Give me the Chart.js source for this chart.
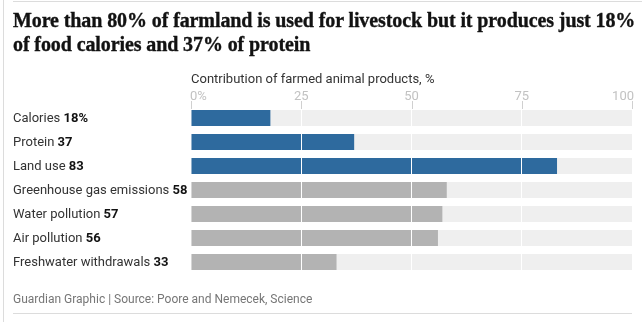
<!DOCTYPE html>
<html>
<head>
<meta charset="utf-8">
<script src="https://cdn.jsdelivr.net/npm/chart.js@4.4.1/dist/chart.umd.min.js"></script>
<style>
  html, body { margin: 0; padding: 0; background: #fff; }
  #wrap { position: relative; width: 642px; height: 322px; overflow: hidden; }
  #chart { position: absolute; left: 0; top: 0; }
  .vline { position: absolute; left: 3px; top: 0; width: 1px; height: 322px; background: #dcdcdc; }
  .topline { position: absolute; left: 13px; top: 1px; width: 629px; height: 1px; background: #dcdcdc; }
  .botline { position: absolute; left: 13px; top: 313px; width: 619px; height: 1px; background: #dcdcdc; }
  h1 { position: absolute; left: 13px; top: 8px; margin: 0; width: 625px;
       font-family: "Liberation Serif", serif; font-weight: 700; font-size: 20px; line-height: 24px;
       color: #121212; letter-spacing: -0.1px; -webkit-text-stroke: 0.35px #121212; }
  .src { position: absolute; left: 13px; top: 292px; margin: 0;
         font-family: Roboto, "Noto Sans", sans-serif; font-size: 12px; color: #767676; }
</style>
</head>
<body>
<div id="wrap">
  <canvas id="chart" width="642" height="322"></canvas>
  <div class="vline"></div>
  <div class="topline"></div>
  <div class="botline"></div>
  <h1>More than 80% of farmland is used for livestock but it produces just 18% of food calories and 37% of protein</h1>
  <p class="src">Guardian Graphic | Source: Poore and Nemecek, Science</p>
</div>
<script>
const categories = ["Calories", "Protein", "Land use", "Greenhouse gas emissions", "Water pollution", "Air pollution", "Freshwater withdrawals"];
const valueLabels = ["18%", "37", "83", "58", "57", "56", "33"];
const values = [18, 37, 83, 58, 57, 56, 33];
const fullScale = [100, 100, 100, 100, 100, 100, 100];
const tickValues = [0, 25, 50, 75, 100];
const tickLabels = ["0%", "25", "50", "75", "100"];
const highlighted = [true, true, true, false, false, false, false];
const axisTitle = "Contribution of farmed animal products, %";

const BLUE = "#2e6a9e";
const GREY = "#b3b3b3";
const SANS = 'Roboto, "Noto Sans", sans-serif';

const labelPlugin = {
  id: "labels",
  afterDraw(chart) {
    const ctx = chart.ctx;
    const x = chart.scales.x;
    const y = chart.scales.y;
    const top = chart.chartArea.top;
    ctx.save();
    // axis title
    ctx.font = "13px " + SANS;
    ctx.fillStyle = "#333333";
    ctx.textAlign = "left";
    ctx.textBaseline = "alphabetic";
    ctx.fillText(axisTitle, x.getPixelForValue(0), top - 23);
    // tick labels and tick marks
    ctx.font = "13px " + SANS;
    ctx.fillStyle = "#c2c2c2";
    tickValues.forEach((v, i) => {
      const px = x.getPixelForValue(v);
      ctx.textAlign = i === 0 ? "left" : (i === tickValues.length - 1 ? "right" : "center");
      const tx = i === 0 ? px - 1 : (i === tickValues.length - 1 ? px + 2 : px);
      ctx.fillText(tickLabels[i], tx, top - 6);
      ctx.strokeStyle = "#d0d0d0";
      ctx.lineWidth = 1;
      ctx.beginPath();
      ctx.moveTo(Math.round(px) + 0.5, top - 5);
      ctx.lineTo(Math.round(px) + 0.5, top + 3);
      ctx.stroke();
    });
    // category labels
    ctx.textBaseline = "middle";
    ctx.textAlign = "left";
    categories.forEach((c, i) => {
      const py = y.getPixelForValue(i) + 1;
      ctx.font = "13px " + SANS;
      ctx.fillStyle = "#333333";
      const name = c + " ";
      ctx.fillText(name, 13, py);
      const w = ctx.measureText(name).width;
      ctx.font = "bold 13px " + SANS;
      ctx.fillStyle = "#121212";
      ctx.fillText(valueLabels[i], 13 + w, py);
    });
    ctx.restore();
  }
};

new Chart(document.getElementById("chart"), {
  type: "bar",
  data: {
    labels: categories,
    datasets: [
      {
        data: values,
        backgroundColor: highlighted.map(h => h ? BLUE : GREY),
        barPercentage: 16 / 24,
        categoryPercentage: 1,
        grouped: false,
        order: 0
      },
      {
        data: fullScale,
        backgroundColor: "#efefef",
        barPercentage: 16 / 24,
        categoryPercentage: 1,
        grouped: false,
        order: 1
      }
    ]
  },
  options: {
    indexAxis: "y",
    responsive: false,
    animation: false,
    events: [],
    layout: { padding: { left: 191, right: 10, top: 106, bottom: 48 } },
    plugins: { legend: { display: false }, tooltip: { enabled: false }, title: { display: false } },
    scales: {
      x: {
        position: "top",
        min: 0, max: 100,
        afterBuildTicks: (s) => { s.ticks = tickValues.map(v => ({ value: v })); },
        ticks: { display: false },
        border: { display: false },
        grid: {
          z: 1,
          drawTicks: false,
          lineWidth: 1,
          color: (ctx) => (ctx.tick && (ctx.tick.value === 0 || ctx.tick.value === 100)) ? "rgba(0,0,0,0)" : "#ffffff"
        }
      },
      y: { display: false }
    }
  },
  plugins: [labelPlugin]
});
</script>
</body>
</html>
